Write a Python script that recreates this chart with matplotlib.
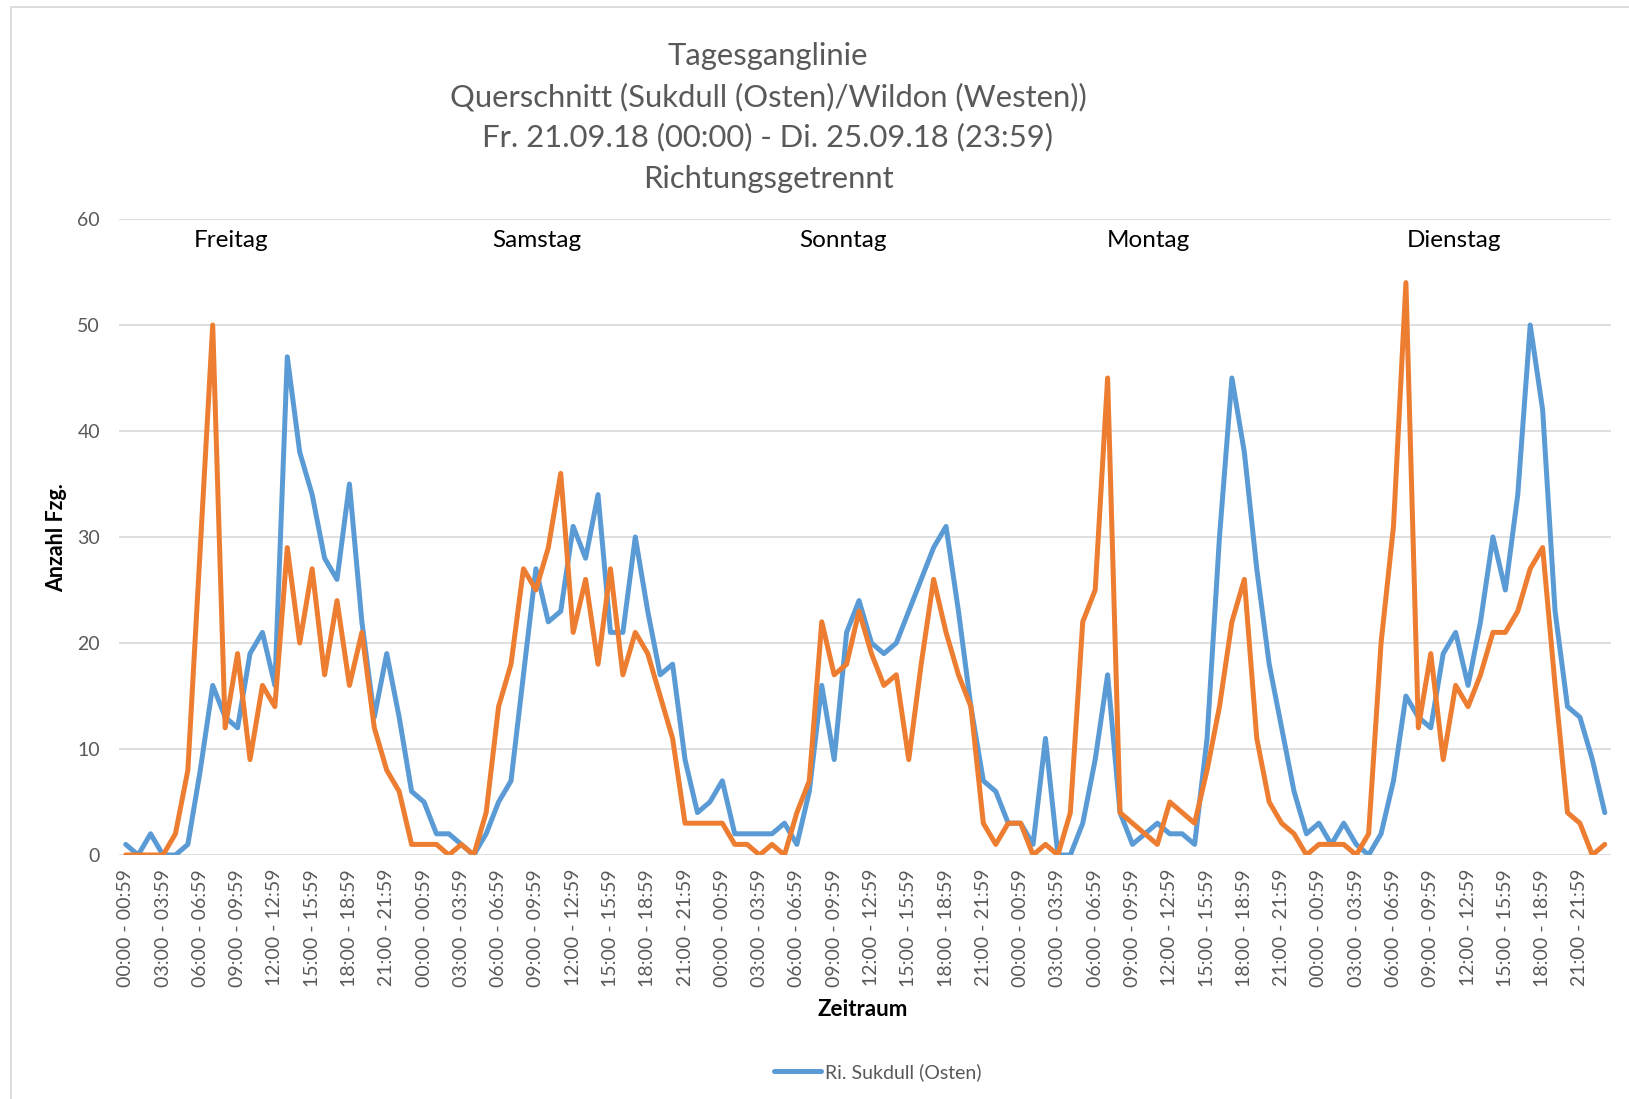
import matplotlib
matplotlib.use("Agg")
import matplotlib.pyplot as plt
from matplotlib.lines import Line2D
from matplotlib.patches import Rectangle

plt.rcParams['font.family'] = ['Lato', 'DejaVu Sans']

# ---------------- data ----------------
days = ["Freitag", "Samstag", "Sonntag", "Montag", "Dienstag"]
hour_labels = [f"{h:02d}:00 - {h:02d}:59" for h in range(24)]

osten = [1, 0, 2, 0, 0, 1, 8, 16, 13, 12, 19, 21, 16, 47, 38, 34, 28, 26, 35, 22, 13, 19, 13, 6,
         5, 2, 2, 1, 0, 2, 5, 7, 17, 27, 22, 23, 31, 28, 34, 21, 21, 30, 23, 17, 18, 9, 4, 5,
         7, 2, 2, 2, 2, 3, 1, 6, 16, 9, 21, 24, 20, 19, 20, 23, 26, 29, 31, 23, 14, 7, 6, 3,
         3, 1, 11, 0, 0, 3, 9, 17, 4, 1, 2, 3, 2, 2, 1, 11, 30, 45, 38, 27, 18, 12, 6, 2,
         3, 1, 3, 1, 0, 2, 7, 15, 13, 12, 19, 21, 16, 22, 30, 25, 34, 50, 42, 23, 14, 13, 9, 4]

westen = [0, 0, 0, 0, 2, 8, 29, 50, 12, 19, 9, 16, 14, 29, 20, 27, 17, 24, 16, 21, 12, 8, 6, 1,
          1, 1, 0, 1, 0, 4, 14, 18, 27, 25, 29, 36, 21, 26, 18, 27, 17, 21, 19, 15, 11, 3, 3, 3,
          3, 1, 1, 0, 1, 0, 4, 7, 22, 17, 18, 23, 19, 16, 17, 9, 18, 26, 21, 17, 14, 3, 1, 3,
          3, 0, 1, 0, 4, 22, 25, 45, 4, 3, 2, 1, 5, 4, 3, 8, 14, 22, 26, 11, 5, 3, 2, 0,
          1, 1, 1, 0, 2, 20, 31, 54, 12, 19, 9, 16, 14, 17, 21, 21, 23, 27, 29, 16, 4, 3, 0, 1]

categories = [hour_labels[i % 24] for i in range(len(osten))]
day_label_pos = [8.5, 33.1, 57.7, 82.3, 106.9]

title_lines = ["Tagesganglinie",
               "Querschnitt (Sukdull (Osten)/Wildon (Westen))",
               "Fr. 21.09.18 (00:00) - Di. 25.09.18 (23:59)",
               "Richtungsgetrennt"]

# ---------------- figure ----------------
W, H = 1629, 1099
fig = plt.figure(figsize=(W / 100, H / 100), dpi=100)
fig.patch.set_facecolor("white")

# outer chart border
fig.add_artist(Rectangle((11 / W, -0.05), 1.2, (1 - 7 / H) + 0.05,
                         transform=fig.transFigure, fill=False,
                         edgecolor="#D9D9D9", lw=1.3))

left, right = 119.5 / W, 1611 / W
bottom, top = (H - 855) / H, (H - 219) / H
ax = fig.add_axes([left, bottom, right - left, top - bottom])

x = list(range(len(osten)))
blue = "#5B9BD5"
orange = "#ED7D31"
ax.plot(x, osten, color=blue, lw=3.6, solid_joinstyle="round", solid_capstyle="round",
        label="Ri. Sukdull (Osten)", zorder=3)
ax.plot(x, westen, color=orange, lw=3.6, solid_joinstyle="round", solid_capstyle="round",
        label="Ri. Wildon (Westen)", zorder=4)

ax.set_xlim(-0.5, len(osten) - 0.5)
ax.set_ylim(0, 60)
ax.set_yticks(range(0, 61, 10))
ax.grid(axis="y", color="#D9D9D9", lw=1.2)
ax.set_axisbelow(True)
for s in ax.spines.values():
    s.set_visible(False)

tick_idx = list(range(0, len(osten), 3))
ax.set_xticks(tick_idx)
ax.set_xticklabels([categories[i] for i in tick_idx], rotation=90, fontsize=14,
                   color="#595959")
ax.tick_params(axis="x", length=0, pad=10)
ax.tick_params(axis="y", length=0, pad=14, labelsize=14, labelcolor="#595959")

for name, pos in zip(days, day_label_pos):
    ax.text(pos, 58.0, name, ha="center", va="center", fontsize=17.5, color="black")

# titles
ys = [56, 97, 137.5, 179]
for t, yy in zip(title_lines, ys):
    fig.text(768 / W, 1 - yy / H, t, ha="center", va="center", fontsize=22.3,
             color="#595959")

fig.text(57 / W, 1 - 538 / H, "Anzahl Fzg.", rotation=90, ha="center", va="center",
         fontsize=15.5, fontweight="bold", color="black")
fig.text(863 / W, 1 - 1010 / H, "Zeitraum", ha="center", va="center",
         fontsize=16, fontweight="bold", color="black")

handle = Line2D([], [], color=blue, lw=3.6, solid_capstyle="round")
leg = fig.legend(handles=[handle], labels=["Ri. Sukdull (Osten)"], loc="center",
                 bbox_to_anchor=(878 / W, 1 - 1072 / H), frameon=False,
                 fontsize=14, handlelength=2.4, handletextpad=0.2)
for txt in leg.get_texts():
    txt.set_color("#595959")

fig.savefig("out.png", dpi=100, facecolor="white")
